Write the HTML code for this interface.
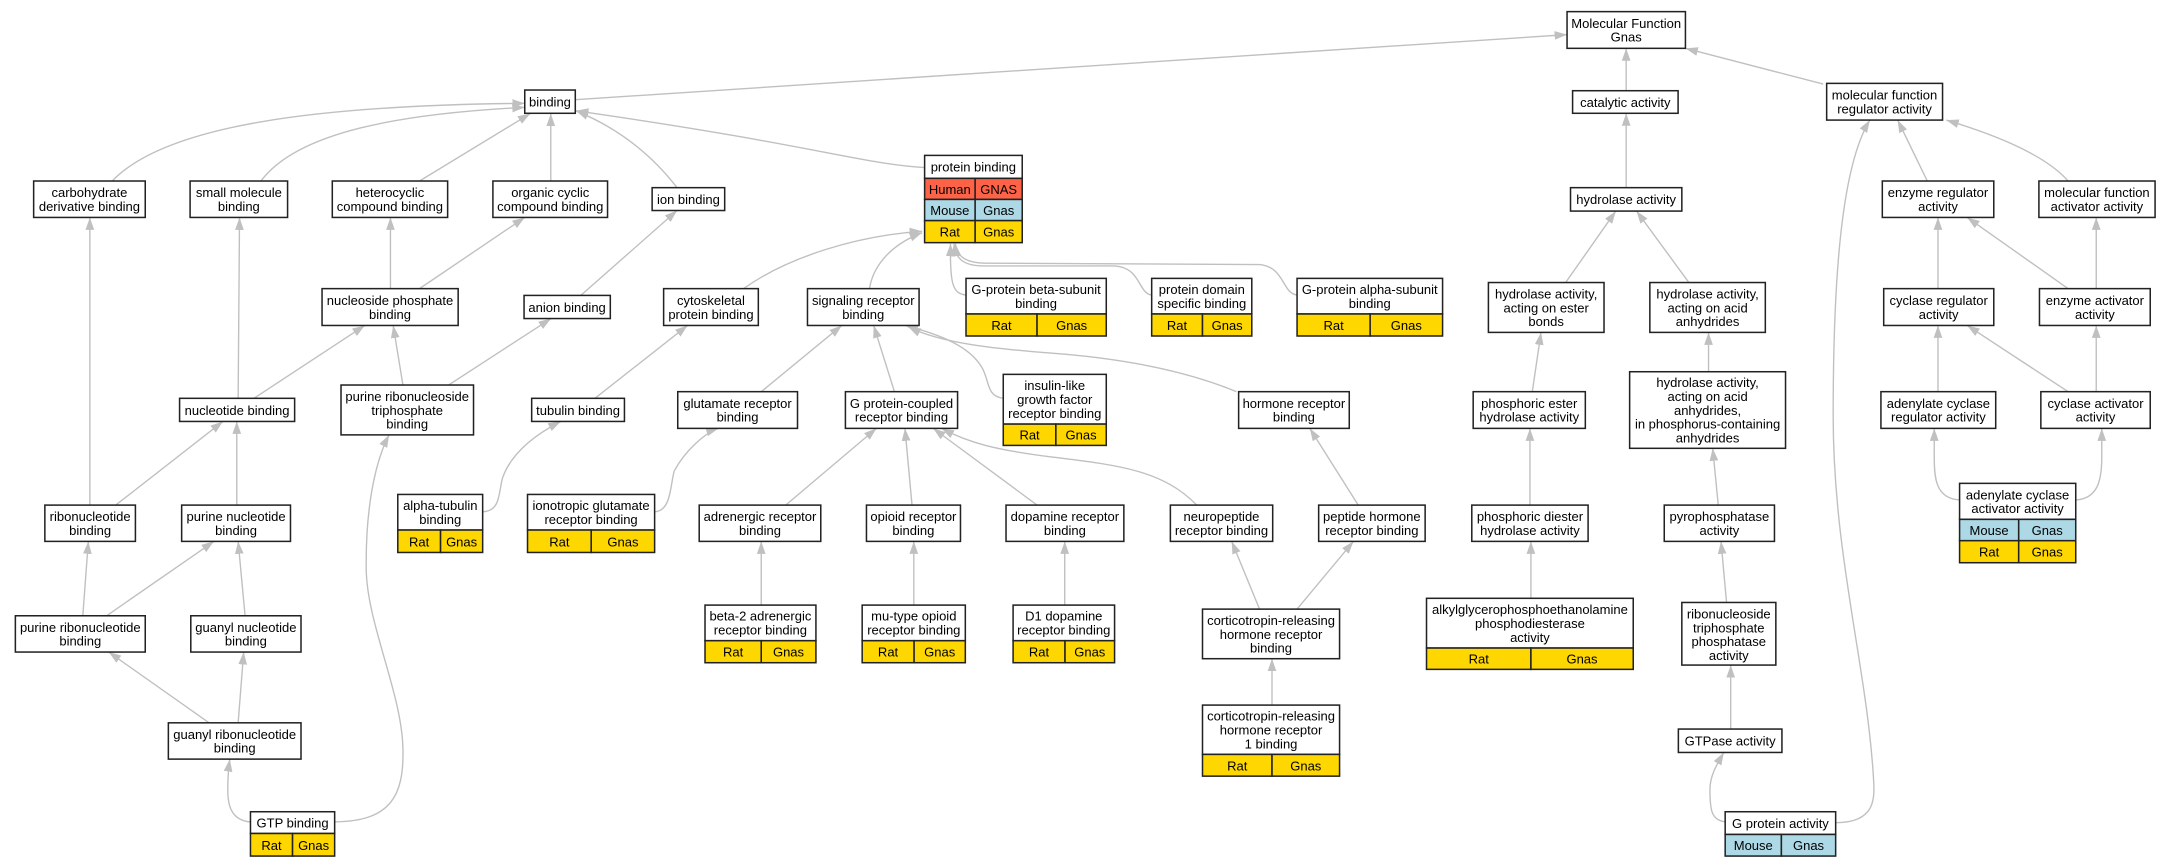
<!DOCTYPE html>
<html><head><meta charset="utf-8"><style>
html,body{margin:0;padding:0;background:#fff;}
svg{display:block;}
text{font-family:"Liberation Sans",Arial,sans-serif;font-size:9.4px;text-anchor:middle;fill:#000;}
.n{fill:#fff;stroke:#222;stroke-width:1.1;}
.h{fill:#ff6347;stroke:#222;stroke-width:1.1;}
.m{fill:#add8e6;stroke:#222;stroke-width:1.1;}
.r{fill:#ffd700;stroke:#222;stroke-width:1.1;}
.e{fill:none;stroke:#c0c0c0;stroke-width:1;marker-end:url(#a);}
</style></head><body>
<svg width="2171" height="867" viewBox="0 0 1568 626" preserveAspectRatio="none" xmlns="http://www.w3.org/2000/svg">
<defs><marker id="a" viewBox="0 0 10 7" refX="10" refY="3.5" markerWidth="9" markerHeight="6.5" orient="auto" markerUnits="userSpaceOnUse"><path d="M0,0 L10,3.5 L0,7 z" fill="#c0c0c0"/></marker></defs>
<g>
<path class="e" d="M415.5,72 L1131.8,25"/>
<path class="e" d="M1174.5,65.5 L1174.5,34.9"/>
<path class="e" d="M1316.8,60.7 L1217.3,34.9"/>
<path class="e" d="M1174.5,135.5 L1174.5,81.8"/>
<path class="e" d="M81,130.7 C120,90 230,76 379,74.6"/>
<path class="e" d="M188.5,130.7 C215,95 290,82 379,77.5"/>
<path class="e" d="M303,130.7 L383,82"/>
<path class="e" d="M397.8,130.7 L397.8,82"/>
<path class="e" d="M489,135.5 Q460,98 416,80"/>
<path class="e" d="M667.8,121 C620,118 590,105 416,80"/>
<path class="e" d="M1392,130.7 L1370.6,86.7"/>
<path class="e" d="M1493.7,130.7 C1480,115 1450,100 1405.7,86.7"/>
<path class="e" d="M1325.8,594 C1356,594 1354,575 1353,560 C1348,480 1324,400 1324,300 C1324,200 1330,120 1350.5,86.7"/>
<path class="e" d="M282,208.4 L282,157"/>
<path class="e" d="M303,208.4 L379,157"/>
<path class="e" d="M419.5,213.3 L489,152"/>
<path class="e" d="M1130.8,204 L1167,152.4"/>
<path class="e" d="M1219.8,204 L1182,152.4"/>
<path class="e" d="M1399.7,208.4 L1399.7,157"/>
<path class="e" d="M1493.7,208.4 L1420.8,157"/>
<path class="e" d="M1514,208.4 L1514,157"/>
<path class="e" d="M537,208.4 C570,185 620,170 666,167"/>
<path class="e" d="M628,208.4 C630,195 640,178 666,168"/>
<path class="e" d="M697.7,213 C688,212 686,205 686.5,176"/>
<path class="e" d="M831.8,213 C822,212 824,193 805,192 L710,192 C695,192 690,186 689,176"/>
<path class="e" d="M936.8,213 C926,212 928,193 910,191 L712,190 C696,190 691,184 690,176"/>
<path class="e" d="M172,287.6 L173,157"/>
<path class="e" d="M183.4,287.6 L263.5,235"/>
<path class="e" d="M291,278 L284,235"/>
<path class="e" d="M324,278 L398,230"/>
<path class="e" d="M429.7,287.6 L496.6,235"/>
<path class="e" d="M549.8,282.8 L608,235"/>
<path class="e" d="M646,282.8 L631,235"/>
<path class="e" d="M724.6,287.6 C712,286 715,275 709,265 C700,250 680,242 654,235"/>
<path class="e" d="M893,282.8 C850,265 800,258 760,255 C720,252 680,248 656,236"/>
<path class="e" d="M1106.7,282.8 L1113,240"/>
<path class="e" d="M1234,268.4 L1234,240"/>
<path class="e" d="M1399.7,282.8 L1399.7,235"/>
<path class="e" d="M1493.7,282.8 L1420.8,235"/>
<path class="e" d="M1514,282.8 L1514,235"/>
<path class="e" d="M64.9,364.7 L64.9,157"/>
<path class="e" d="M83.6,364.7 L161,304.3"/>
<path class="e" d="M171,364.7 L171,304.3"/>
<path class="e" d="M348.6,369.5 C362,369 360,355 363,345 C370,325 390,312 405,304.3"/>
<path class="e" d="M472.8,369.5 C485,369 484,350 487,340 C495,325 510,312 519,309.3"/>
<path class="e" d="M567.5,364.7 L633,309.3"/>
<path class="e" d="M658.7,364.7 L653.6,309.3"/>
<path class="e" d="M749,364.7 L674,309.3"/>
<path class="e" d="M864.4,364.7 C840,340 810,336 760,330 C720,325 700,320 680,309.3"/>
<path class="e" d="M981,364.7 L946,309.3"/>
<path class="e" d="M1105,364.7 L1105,309.3"/>
<path class="e" d="M1241,364.7 L1237,323.7"/>
<path class="e" d="M1415.3,361 C1398,360 1397,345 1397,330 L1397,309.3"/>
<path class="e" d="M1499.2,361 C1516,360 1518,345 1518,330 L1518,309.3"/>
<path class="e" d="M59.8,444.6 L63.8,390.9"/>
<path class="e" d="M77,444.6 L154.5,390.9"/>
<path class="e" d="M177,444.6 L172,390.9"/>
<path class="e" d="M549.8,436.9 L549.8,390.9"/>
<path class="e" d="M660,436.9 L660,390.9"/>
<path class="e" d="M769,436.9 L769,390.9"/>
<path class="e" d="M909.7,439.8 L889.6,390.9"/>
<path class="e" d="M936.8,439.8 L977.5,390.9"/>
<path class="e" d="M1105.7,432 L1105.7,390.9"/>
<path class="e" d="M1247,435 L1243,390.9"/>
<path class="e" d="M151,521.9 L78.5,470.8"/>
<path class="e" d="M172,521.9 L176,470.8"/>
<path class="e" d="M918.7,509.1 L918.7,475.6"/>
<path class="e" d="M1250,526.4 L1250,480.2"/>
<path class="e" d="M180.9,593.5 C166,592 164.5,580 164.5,570 C164.5,560 165,555 166,548.1"/>
<path class="e" d="M241.7,593.4 C282,593 292,575 291,540 C290,500 265,450 264.5,411 C264,370 270,335 281,314"/>
<path class="e" d="M1246,593.4 C1236,592 1235,585 1235,570 C1235,560 1240,552 1245,543.3"/>
</g>
<g>
<rect class="n" x="1131.8" y="8.4" width="85.5" height="26.5"/><text x="1174.5" y="20.1">Molecular Function</text><text x="1174.5" y="30.1">Gnas</text>
<rect class="n" x="379" y="65" width="36.5" height="16.8"/><text x="397.2" y="76.9">binding</text>
<rect class="n" x="1135.8" y="65.5" width="76.2" height="16.3"/><text x="1173.9" y="77.2">catalytic activity</text>
<rect class="n" x="1319.3" y="60.2" width="83.7" height="26.5"/><text x="1361.1" y="72">molecular function</text><text x="1361.1" y="82">regulator activity</text>
<rect class="n" x="667.8" y="112.2" width="70.5" height="16.6"/><text x="703" y="124">protein binding</text>
<rect class="h" x="667.8" y="128.8" width="36.5" height="15.2"/><rect class="h" x="704.3" y="128.8" width="34" height="15.2"/>
<rect class="m" x="667.8" y="144" width="36.5" height="15.3"/><rect class="m" x="704.3" y="144" width="34" height="15.3"/>
<rect class="r" x="667.8" y="159.3" width="36.5" height="15.9"/><rect class="r" x="704.3" y="159.3" width="34" height="15.9"/>
<text x="686" y="140">Human</text><text x="721.3" y="140">GNAS</text>
<text x="686" y="155.2">Mouse</text><text x="721.3" y="155.2">Gnas</text>
<text x="686" y="170.8">Rat</text><text x="721.3" y="170.8">Gnas</text>
<rect class="n" x="24.3" y="130.7" width="80.6" height="26.3"/><text x="64.6" y="142.3">carbohydrate</text><text x="64.6" y="152.3">derivative binding</text>
<rect class="n" x="137.3" y="130.7" width="70.4" height="26.3"/><text x="172.5" y="142.3">small molecule</text><text x="172.5" y="152.3">binding</text>
<rect class="n" x="240" y="130.7" width="83.3" height="26.3"/><text x="281.6" y="142.3">heterocyclic</text><text x="281.6" y="152.3">compound binding</text>
<rect class="n" x="356" y="130.7" width="82.8" height="26.3"/><text x="397.4" y="142.3">organic cyclic</text><text x="397.4" y="152.3">compound binding</text>
<rect class="n" x="471" y="135.5" width="52.4" height="16.5"/><text x="497.2" y="147.2">ion binding</text>
<rect class="n" x="1134.3" y="135.5" width="80.4" height="16.9"/><text x="1174.5" y="147.4">hydrolase activity</text>
<rect class="n" x="1359.5" y="130.7" width="80.5" height="26.3"/><text x="1399.7" y="142.3">enzyme regulator</text><text x="1399.7" y="152.3">activity</text>
<rect class="n" x="1472.6" y="130.7" width="83.9" height="26.3"/><text x="1514.5" y="142.3">molecular function</text><text x="1514.5" y="152.3">activator activity</text>
<rect class="n" x="232.6" y="208.4" width="98.3" height="26.6"/><text x="281.7" y="220.2">nucleoside phosphate</text><text x="281.7" y="230.2">binding</text>
<rect class="n" x="378.5" y="213.3" width="62.3" height="16.7"/><text x="409.6" y="225.1">anion binding</text>
<rect class="n" x="479.3" y="208.4" width="68.4" height="26.6"/><text x="513.5" y="220.2">cytoskeletal</text><text x="513.5" y="230.2">protein binding</text>
<rect class="n" x="583.2" y="208.4" width="80.6" height="26.6"/><text x="623.5" y="220.2">signaling receptor</text><text x="623.5" y="230.2">binding</text>
<rect class="n" x="697.7" y="201" width="101.3" height="25.7"/><text x="748.3" y="212.3">G-protein beta-subunit</text><text x="748.3" y="222.3">binding</text>
<rect class="r" x="697.7" y="226.7" width="51.3" height="15.9"/><rect class="r" x="749" y="226.7" width="50" height="15.9"/><text x="723.3" y="238.1">Rat</text><text x="774" y="238.1">Gnas</text>
<rect class="n" x="831.8" y="201" width="72.3" height="25.7"/><text x="868" y="212.3">protein domain</text><text x="868" y="222.3">specific binding</text>
<rect class="r" x="831.8" y="226.7" width="36.7" height="15.9"/><rect class="r" x="868.5" y="226.7" width="35.6" height="15.9"/><text x="850.1" y="238.1">Rat</text><text x="886.3" y="238.1">Gnas</text>
<rect class="n" x="936.8" y="201" width="105.1" height="25.7"/><text x="989.3" y="212.3">G-protein alpha-subunit</text><text x="989.3" y="222.3">binding</text>
<rect class="r" x="936.8" y="226.7" width="52.8" height="15.9"/><rect class="r" x="989.6" y="226.7" width="52.3" height="15.9"/><text x="963.2" y="238.1">Rat</text><text x="1015.7" y="238.1">Gnas</text>
<rect class="n" x="1075" y="204" width="83.5" height="36"/><text x="1116.7" y="215.5">hydrolase activity,</text><text x="1116.7" y="225.5">acting on ester</text><text x="1116.7" y="235.5">bonds</text>
<rect class="n" x="1191.6" y="204" width="83.4" height="36"/><text x="1233.3" y="215.5">hydrolase activity,</text><text x="1233.3" y="225.5">acting on acid</text><text x="1233.3" y="235.5">anhydrides</text>
<rect class="n" x="1360.5" y="208.4" width="79.5" height="26.6"/><text x="1400.2" y="220.2">cyclase regulator</text><text x="1400.2" y="230.2">activity</text>
<rect class="n" x="1473" y="208.4" width="80" height="26.6"/><text x="1513" y="220.2">enzyme activator</text><text x="1513" y="230.2">activity</text>
<rect class="n" x="129.7" y="287.6" width="83.1" height="16.7"/><text x="171.2" y="299.5">nucleotide binding</text>
<rect class="n" x="246.3" y="278" width="95.7" height="36"/><text x="294.1" y="289.5">purine ribonucleoside</text><text x="294.1" y="299.5">triphosphate</text><text x="294.1" y="309.5">binding</text>
<rect class="n" x="384" y="287.6" width="67" height="16.7"/><text x="417.5" y="299.5">tubulin binding</text>
<rect class="n" x="489.5" y="282.8" width="86.5" height="26.5"/><text x="532.7" y="294.5">glutamate receptor</text><text x="532.7" y="304.5">binding</text>
<rect class="n" x="610.6" y="282.8" width="81" height="26.5"/><text x="651.1" y="294.5">G protein-coupled</text><text x="651.1" y="304.5">receptor binding</text>
<rect class="n" x="724.6" y="270.3" width="74.4" height="35.9"/><text x="761.8" y="281.7">insulin-like</text><text x="761.8" y="291.7">growth factor</text><text x="761.8" y="301.7">receptor binding</text>
<rect class="r" x="724.6" y="306.2" width="38" height="15.4"/><rect class="r" x="762.6" y="306.2" width="36.4" height="15.4"/><text x="743.6" y="317.4">Rat</text><text x="780.8" y="317.4">Gnas</text>
<rect class="n" x="894.6" y="282.8" width="79.9" height="26.5"/><text x="934.5" y="294.5">hormone receptor</text><text x="934.5" y="304.5">binding</text>
<rect class="n" x="1064" y="282.8" width="81" height="26.5"/><text x="1104.5" y="294.5">phosphoric ester</text><text x="1104.5" y="304.5">hydrolase activity</text>
<rect class="n" x="1177" y="268.4" width="112.6" height="55.3"/><text x="1233.3" y="279.5">hydrolase activity,</text><text x="1233.3" y="289.5">acting on acid</text><text x="1233.3" y="299.5">anhydrides,</text><text x="1233.3" y="309.5">in phosphorus-containing</text><text x="1233.3" y="319.5">anhydrides</text>
<rect class="n" x="1358.5" y="282.8" width="82.9" height="26.5"/><text x="1400" y="294.5">adenylate cyclase</text><text x="1400" y="304.5">regulator activity</text>
<rect class="n" x="1474" y="282.8" width="79" height="26.5"/><text x="1513.5" y="294.5">cyclase activator</text><text x="1513.5" y="304.5">activity</text>
<rect class="n" x="287.3" y="357" width="61.3" height="25.7"/><text x="318" y="368.3">alpha-tubulin</text><text x="318" y="378.3">binding</text>
<rect class="r" x="287.3" y="382.7" width="30.9" height="16.2"/><rect class="r" x="318.2" y="382.7" width="30.4" height="16.2"/><text x="302.7" y="394.5">Rat</text><text x="333.4" y="394.5">Gnas</text>
<rect class="n" x="381" y="357" width="91.8" height="25.7"/><text x="426.9" y="368.3">ionotropic glutamate</text><text x="426.9" y="378.3">receptor binding</text>
<rect class="r" x="381" y="382.7" width="46" height="16.2"/><rect class="r" x="427" y="382.7" width="45.8" height="16.2"/><text x="404" y="394.5">Rat</text><text x="449.9" y="394.5">Gnas</text>
<rect class="n" x="32.4" y="364.7" width="65.4" height="26.2"/><text x="65.1" y="376.3">ribonucleotide</text><text x="65.1" y="386.3">binding</text>
<rect class="n" x="131.2" y="364.7" width="78.6" height="26.2"/><text x="170.5" y="376.3">purine nucleotide</text><text x="170.5" y="386.3">binding</text>
<rect class="n" x="505" y="364.7" width="87.8" height="26.2"/><text x="548.9" y="376.3">adrenergic receptor</text><text x="548.9" y="386.3">binding</text>
<rect class="n" x="625.8" y="364.7" width="67.9" height="26.2"/><text x="659.7" y="376.3">opioid receptor</text><text x="659.7" y="386.3">binding</text>
<rect class="n" x="726.6" y="364.7" width="85.1" height="26.2"/><text x="769.1" y="376.3">dopamine receptor</text><text x="769.1" y="386.3">binding</text>
<rect class="n" x="845.3" y="364.7" width="73.9" height="26.2"/><text x="882.2" y="376.3">neuropeptide</text><text x="882.2" y="386.3">receptor binding</text>
<rect class="n" x="952.4" y="364.7" width="76.9" height="26.2"/><text x="990.8" y="376.3">peptide hormone</text><text x="990.8" y="386.3">receptor binding</text>
<rect class="n" x="1063" y="364.7" width="84" height="26.2"/><text x="1105" y="376.3">phosphoric diester</text><text x="1105" y="386.3">hydrolase activity</text>
<rect class="n" x="1202" y="364.7" width="79.6" height="26.2"/><text x="1241.8" y="376.3">pyrophosphatase</text><text x="1241.8" y="386.3">activity</text>
<rect class="n" x="1415.3" y="349" width="83.9" height="26"/><text x="1457.2" y="360.5">adenylate cyclase</text><text x="1457.2" y="370.5">activator activity</text>
<rect class="m" x="1415.3" y="375" width="42.7" height="15.4"/><rect class="m" x="1458" y="375" width="41.2" height="15.4"/><text x="1436.6" y="386.2">Mouse</text><text x="1478.6" y="386.2">Gnas</text>
<rect class="r" x="1415.3" y="390.4" width="42.7" height="15.9"/><rect class="r" x="1458" y="390.4" width="41.2" height="15.9"/><text x="1436.6" y="401.9">Rat</text><text x="1478.6" y="401.9">Gnas</text>
<rect class="n" x="11.1" y="444.6" width="93.8" height="26.2"/><text x="58" y="456.2">purine ribonucleotide</text><text x="58" y="466.2">binding</text>
<rect class="n" x="137.8" y="444.6" width="79.6" height="26.2"/><text x="177.6" y="456.2">guanyl nucleotide</text><text x="177.6" y="466.2">binding</text>
<rect class="n" x="509.2" y="436.9" width="80.1" height="25.7"/><text x="549.2" y="448.2">beta-2 adrenergic</text><text x="549.2" y="458.2">receptor binding</text>
<rect class="r" x="509.2" y="462.6" width="40.6" height="15.9"/><rect class="r" x="549.8" y="462.6" width="39.5" height="15.9"/><text x="529.5" y="474.1">Rat</text><text x="569.5" y="474.1">Gnas</text>
<rect class="n" x="622.7" y="436.9" width="74.5" height="25.7"/><text x="660" y="448.2">mu-type opioid</text><text x="660" y="458.2">receptor binding</text>
<rect class="r" x="622.7" y="462.6" width="37.5" height="15.9"/><rect class="r" x="660.2" y="462.6" width="37" height="15.9"/><text x="641.4" y="474.1">Rat</text><text x="678.7" y="474.1">Gnas</text>
<rect class="n" x="731.7" y="436.9" width="73.3" height="25.7"/><text x="768.3" y="448.2">D1 dopamine</text><text x="768.3" y="458.2">receptor binding</text>
<rect class="r" x="731.7" y="462.6" width="37.5" height="15.9"/><rect class="r" x="769.2" y="462.6" width="35.8" height="15.9"/><text x="750.4" y="474.1">Rat</text><text x="787.1" y="474.1">Gnas</text>
<rect class="n" x="868.5" y="439.8" width="99" height="35.8"/><text x="918" y="451.2">corticotropin-releasing</text><text x="918" y="461.2">hormone receptor</text><text x="918" y="471.2">binding</text>
<rect class="n" x="1030.3" y="432" width="149.3" height="35.9"/><text x="1105" y="443.5">alkylglycerophosphoethanolamine</text><text x="1105" y="453.5">phosphodiesterase</text><text x="1105" y="463.5">activity</text>
<rect class="r" x="1030.3" y="467.9" width="75.4" height="15.4"/><rect class="r" x="1105.7" y="467.9" width="73.9" height="15.4"/><text x="1068" y="479.2">Rat</text><text x="1142.6" y="479.2">Gnas</text>
<rect class="n" x="1214.7" y="435" width="67.9" height="45.2"/><text x="1248.6" y="446.6">ribonucleoside</text><text x="1248.6" y="456.6">triphosphate</text><text x="1248.6" y="466.6">phosphatase</text><text x="1248.6" y="476.6">activity</text>
<rect class="n" x="121.6" y="521.9" width="95.8" height="26.2"/><text x="169.5" y="533.5">guanyl ribonucleotide</text><text x="169.5" y="543.5">binding</text>
<rect class="n" x="868.5" y="509.1" width="99" height="35.6"/><text x="918" y="520.4">corticotropin-releasing</text><text x="918" y="530.4">hormone receptor</text><text x="918" y="540.4">1 binding</text>
<rect class="r" x="868.5" y="544.7" width="50.2" height="15.7"/><rect class="r" x="918.7" y="544.7" width="48.8" height="15.7"/><text x="893.6" y="556.2">Rat</text><text x="943.1" y="556.2">Gnas</text>
<rect class="n" x="1212.2" y="526.4" width="74.8" height="16.9"/><text x="1249.6" y="538.4">GTPase activity</text>
<rect class="n" x="180.9" y="586.1" width="60.8" height="15.7"/><text x="211.3" y="597.5">GTP binding</text>
<rect class="r" x="180.9" y="601.8" width="30.4" height="16.3"/><rect class="r" x="211.3" y="601.8" width="30.4" height="16.3"/><text x="196.1" y="613.6">Rat</text><text x="226.5" y="613.6">Gnas</text>
<rect class="n" x="1246" y="586.1" width="79.8" height="16.4"/><text x="1285.9" y="597.8">G protein activity</text>
<rect class="m" x="1246" y="602.5" width="40.6" height="15.6"/><rect class="m" x="1286.6" y="602.5" width="39.2" height="15.6"/><text x="1266.3" y="613.9">Mouse</text><text x="1306.2" y="613.9">Gnas</text>
</g>
</svg>
</body></html>
